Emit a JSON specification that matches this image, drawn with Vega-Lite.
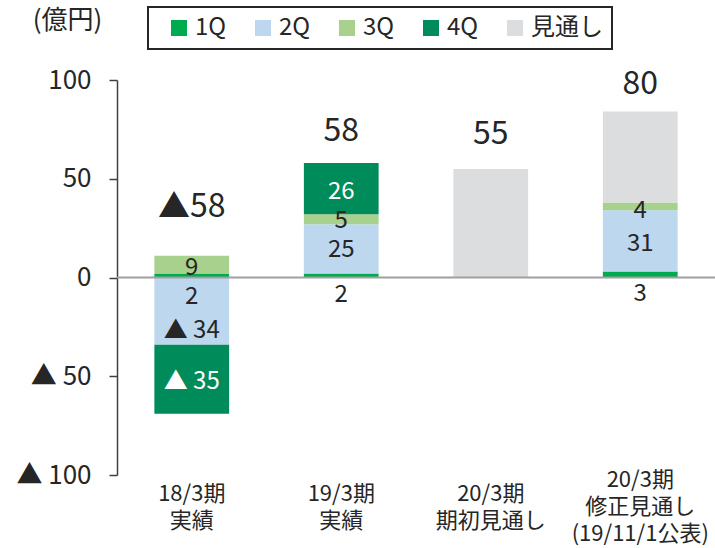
{
  "$schema": "https://vega.github.io/schema/vega-lite/v6.json",
  "width": 598,
  "height": 395,
  "autosize": {"type": "none"},
  "padding": {"left": 117, "top": 80, "right": 0, "bottom": 73},
  "background": "white",
  "config": {
    "font": "Noto Sans CJK JP",
    "view": {"stroke": null},
    "text": {"font": "Noto Sans CJK JP"}
  },
  "datasets": {
    "bars": [
      {"period": "18/3期|実績", "quarter": "1Q", "value": 2},
      {"period": "18/3期|実績", "quarter": "2Q", "value": -34},
      {"period": "18/3期|実績", "quarter": "3Q", "value": 9},
      {"period": "18/3期|実績", "quarter": "4Q", "value": -35},
      {"period": "19/3期|実績", "quarter": "1Q", "value": 2},
      {"period": "19/3期|実績", "quarter": "2Q", "value": 25},
      {"period": "19/3期|実績", "quarter": "3Q", "value": 5},
      {"period": "19/3期|実績", "quarter": "4Q", "value": 26},
      {"period": "20/3期|期初見通し", "quarter": "見通し", "value": 55},
      {"period": "20/3期|修正見通し|(19/11/1公表)", "quarter": "1Q", "value": 3},
      {"period": "20/3期|修正見通し|(19/11/1公表)", "quarter": "2Q", "value": 31},
      {"period": "20/3期|修正見通し|(19/11/1公表)", "quarter": "3Q", "value": 4},
      {"period": "20/3期|修正見通し|(19/11/1公表)", "quarter": "見通し", "value": 46}
    ],
    "labels": [
      {"period": "18/3期|実績", "quarter": "3Q", "pos": 5, "text": "9"},
      {"period": "18/3期|実績", "quarter": "1Q", "pos": -10, "text": "2"},
      {"period": "18/3期|実績", "quarter": "2Q", "pos": -27.2, "text": "▲ 34"},
      {"period": "18/3期|実績", "quarter": "4Q", "pos": -53, "text": "▲ 35"},
      {"period": "19/3期|実績", "quarter": "4Q", "pos": 43.2, "text": "26"},
      {"period": "19/3期|実績", "quarter": "3Q", "pos": 28.5, "text": "5"},
      {"period": "19/3期|実績", "quarter": "2Q", "pos": 13.7, "text": "25"},
      {"period": "19/3期|実績", "quarter": "1Q", "pos": -9.1, "text": "2"},
      {"period": "20/3期|修正見通し|(19/11/1公表)", "quarter": "3Q", "pos": 33.9, "text": "4"},
      {"period": "20/3期|修正見通し|(19/11/1公表)", "quarter": "2Q", "pos": 17.2, "text": "31"},
      {"period": "20/3期|修正見通し|(19/11/1公表)", "quarter": "1Q", "pos": -8.6, "text": "3"}
    ],
    "totals": [
      {"period": "18/3期|実績", "pos": 35.6, "text": "▲58"},
      {"period": "19/3期|実績", "pos": 74.4, "text": "58"},
      {"period": "20/3期|期初見通し", "pos": 72.7, "text": "55"},
      {"period": "20/3期|修正見通し|(19/11/1公表)", "pos": 98, "text": "80"}
    ]
  },
  "layer": [
    {
      "data": {"name": "bars"},
      "mark": {"type": "bar"},
      "encoding": {
        "x": {
          "field": "period",
          "type": "nominal",
          "sort": ["18/3期|実績", "19/3期|実績", "20/3期|期初見通し", "20/3期|修正見通し|(19/11/1公表)"],
          "scale": {"paddingInner": 0.5, "paddingOuter": 0.25},
          "axis": {
            "title": null,
            "domain": false,
            "ticks": false,
            "tickSize": 0,
            "labelAngle": 0,
            "labelExpr": "split(datum.label, '|')",
            "labelFontSize": 22,
            "labelLineHeight": 27,
            "labelBaseline": "middle",
            "labelPadding": {"condition": {"test": "indexof(datum.value, '公表') >= 0", "value": 4}, "value": 18},
            "labelColor": "#262626",
            "labelFont": "Noto Sans CJK JP"
          }
        },
        "y": {
          "field": "value",
          "type": "quantitative",
          "stack": "zero",
          "title": "(億円)",
          "scale": {"domain": [-100, 100], "nice": false},
          "axis": {
            "values": [-100, -50, 0, 50, 100],
            "grid": false,
            "labelExpr": "datum.value < 0 ? '▲ ' + format(-datum.value, 'd') : format(datum.value, 'd')",
            "labelFontSize": 26,
            "labelColor": "#262626",
            "labelPadding": 18,
            "domainColor": "#404040",
            "domainWidth": 1.5,
            "tickColor": "#404040",
            "tickWidth": 1.5,
            "tickSize": 8,
            "titleAngle": 0,
            "titleX": -50,
            "titleY": -60,
            "titleAlign": "center",
            "titleBaseline": "middle",
            "titleFontSize": 26,
            "titleFontWeight": "normal",
            "titleColor": "#262626"
          }
        },
        "color": {
          "field": "quarter",
          "type": "nominal",
          "scale": {
            "domain": ["1Q", "2Q", "3Q", "4Q", "見通し"],
            "range": ["#00AA4F", "#BDD7EE", "#A9D18E", "#008C5A", "#DCDDDF"]
          },
          "legend": {
            "title": null,
            "orient": "none",
            "direction": "horizontal",
            "legendX": 31,
            "legendY": -73,
            "padding": 9,
            "strokeColor": "#262626",
            "gridAlign": "none",
            "symbolType": "square",
            "symbolSize": 256,
            "symbolStrokeWidth": 0,
            "symbolOffset": 10,
            "labelOffset": 4,
            "columnPadding": 14,
            "labelFontSize": 24,
            "labelColor": "#262626",
            "labelFont": "Noto Sans CJK JP",
            "encode": {"legend": {"update": {"strokeWidth": {"value": 2}}}}
          }
        },
        "order": {"field": "quarter", "sort": "ascending"}
      }
    },
    {
      "data": {"values": [{"zero": 0}]},
      "mark": {"type": "rule", "color": "#A0A0A0", "strokeWidth": 2},
      "encoding": {
        "y": {"field": "zero", "type": "quantitative", "title": "(億円)"}
      }
    },
    {
      "data": {"name": "labels"},
      "mark": {"type": "text", "fontSize": 24, "baseline": "middle", "align": "center"},
      "encoding": {
        "x": {"field": "period", "type": "nominal", "sort": ["18/3期|実績", "19/3期|実績", "20/3期|期初見通し", "20/3期|修正見通し|(19/11/1公表)"]},
        "y": {"field": "pos", "type": "quantitative", "title": "(億円)"},
        "text": {"field": "text"},
        "color": {"condition": {"test": "datum.quarter === '4Q'", "value": "white"}, "value": "#262626"}
      }
    },
    {
      "data": {"name": "totals"},
      "mark": {"type": "text", "fontSize": 32, "baseline": "middle", "align": "center", "color": "#262626"},
      "encoding": {
        "x": {"field": "period", "type": "nominal", "sort": ["18/3期|実績", "19/3期|実績", "20/3期|期初見通し", "20/3期|修正見通し|(19/11/1公表)"]},
        "y": {"field": "pos", "type": "quantitative", "title": "(億円)"},
        "text": {"field": "text"}
      }
    }
  ]
}
